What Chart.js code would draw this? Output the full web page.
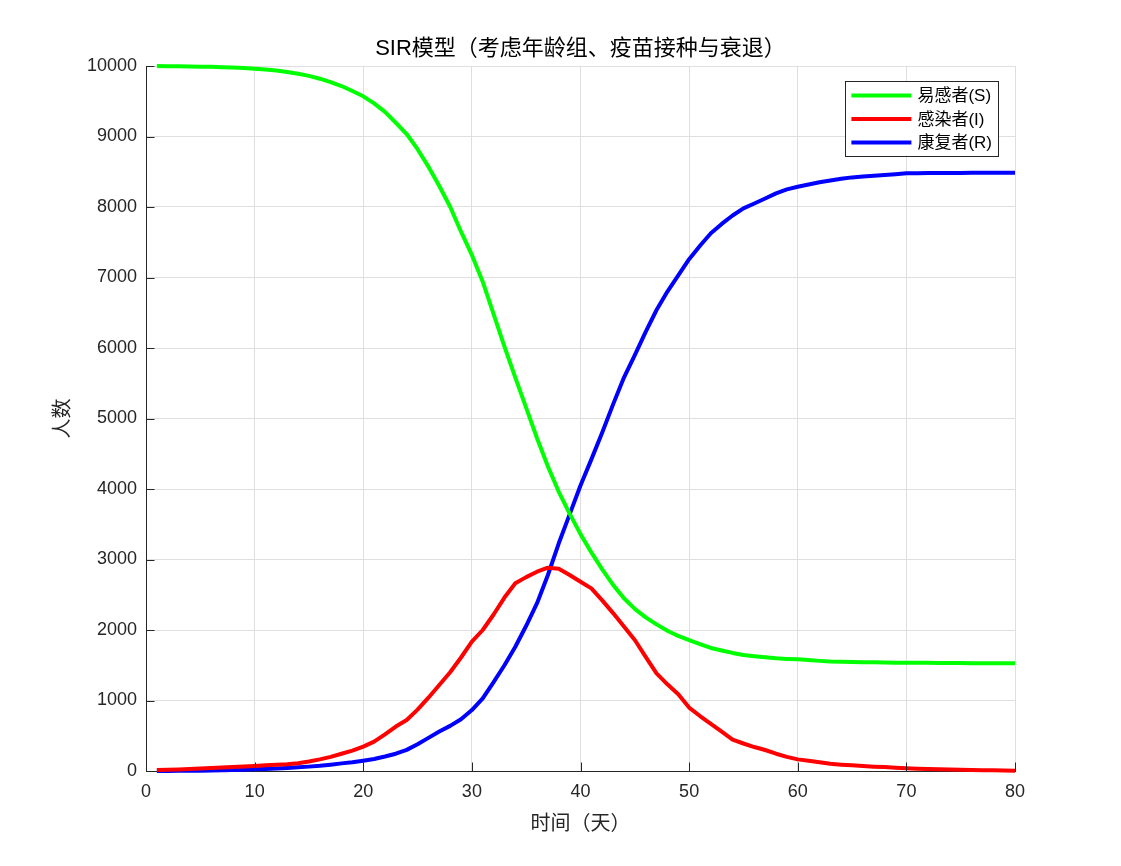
<!DOCTYPE html>
<html>
<head>
<meta charset="utf-8">
<script src="https://cdn.jsdelivr.net/npm/chart.js@4.4.1/dist/chart.umd.min.js"></script>
<style>
  html, body { margin: 0; padding: 0; background: #fff; }
  #wrap { width: 1121px; height: 866px; }
</style>
</head>
<body>
<div id="wrap"><canvas id="sir" width="1121" height="866"></canvas></div>
<script>
// ==============================
// DATA
// ==============================
const titulo = "SIR模型（考虑年龄组、疫苗接种与衰退）";
const etiquetaX = "时间（天）";
const etiquetaY = "人数";
const nombres = ["易感者(S)", "感染者(I)", "康复者(R)"];

const dias = [
  1, 2, 3, 4, 5, 6, 7, 8, 9, 10,
  11, 12, 13, 14, 15, 16, 17, 18, 19, 20,
  21, 22, 23, 24, 25, 26, 27, 28, 29, 30,
  31, 32, 33, 34, 35, 36, 37, 38, 39, 40,
  41, 42, 43, 44, 45, 46, 47, 48, 49, 50,
  51, 52, 53, 54, 55, 56, 57, 58, 59, 60,
  61, 62, 63, 64, 65, 66, 67, 68, 69, 70,
  71, 72, 73, 74, 75, 76, 77, 78, 79, 80
];

const susceptibles = [
  10000, 9998, 9996, 9994, 9991, 9988, 9984, 9979, 9972, 9960,
  9950, 9935, 9915, 9890, 9860, 9820, 9770, 9716, 9645, 9570,
  9470, 9350, 9195, 9035, 8820, 8572, 8298, 8004, 7650, 7320,
  6940, 6480, 6018, 5580, 5150, 4720, 4320, 3960, 3650, 3360,
  3100, 2860, 2640, 2450, 2300, 2180, 2080, 1990, 1915, 1858,
  1800, 1745, 1710, 1675, 1645, 1628, 1612, 1598, 1590, 1584,
  1575, 1562, 1552, 1548, 1545, 1543, 1541, 1539, 1537, 1536,
  1535, 1534, 1533, 1532, 1531, 1530, 1529, 1528, 1528, 1527
];

const infectados = [
  15, 18, 23, 29, 36, 42, 48, 55, 63, 72,
  80, 88, 97, 110, 135, 165, 200, 245, 290, 345,
  416, 520, 630, 723, 870, 1040, 1220, 1400, 1610, 1834,
  2000, 2220, 2460, 2662, 2750, 2827, 2884, 2870, 2780, 2685,
  2591, 2420, 2240, 2050, 1858, 1620, 1385, 1230, 1090, 900,
  780, 670, 560, 445, 390, 340, 298, 245, 200, 165,
  145, 125, 102, 90, 80, 70, 62, 55, 45, 38,
  33, 28, 24, 21, 18, 15, 12, 10, 7, 5
];

const recuperados = [
  0, 1, 2, 3, 5, 8, 11, 14, 18, 24,
  30, 36, 44, 52, 62, 74, 90, 108, 125, 146,
  170, 205, 245, 300, 380, 470, 560, 640, 735, 865,
  1030, 1260, 1500, 1763, 2060, 2380, 2780, 3230, 3640, 4050,
  4420, 4800, 5200, 5580, 5900, 6230, 6539, 6800, 7030, 7260,
  7450, 7627, 7760, 7880, 7981, 8050, 8120, 8194, 8250, 8288,
  8320, 8350, 8375, 8400, 8420, 8432, 8443, 8455, 8465, 8478,
  8480, 8481, 8482, 8483, 8484, 8485, 8485, 8486, 8486, 8487
];

const colores = ["#00ff00", "#ff0000", "#0000ff"];

// ==============================
// ESTILO
// ==============================
const FUENTE = "'Liberation Sans', 'Noto Sans CJK SC', sans-serif";
const EJE = "#262626";
const REJILLA = "#dfdfdf";

Chart.defaults.font.family = FUENTE;
Chart.defaults.color = EJE;

function serie(valores) {
  return dias.map((d, i) => ({ x: d, y: valores[i] }));
}

// título centrado sobre el área de datos
const tituloArea = {
  id: 'tituloArea',
  afterDraw(chart) {
    const ctx = chart.ctx;
    const area = chart.chartArea;
    ctx.save();
    ctx.font = "22px " + FUENTE;
    ctx.fillStyle = "#000000";
    ctx.textAlign = "center";
    ctx.textBaseline = "middle";
    ctx.fillText(titulo, (area.left + area.right) / 2, 49);
    ctx.restore();
  }
};

// ticks hacia dentro, estilo MATLAB
const ticksDentro = {
  id: 'ticksDentro',
  afterDraw(chart) {
    const ctx = chart.ctx;
    const xs = chart.scales.x;
    const ys = chart.scales.y;
    const area = chart.chartArea;
    const largo = 8.5;
    ctx.save();
    ctx.strokeStyle = EJE;
    ctx.lineWidth = 1;
    ctx.beginPath();
    xs.ticks.forEach(t => {
      const px = Math.round(xs.getPixelForValue(t.value)) + 0.5;
      ctx.moveTo(px, area.bottom);
      ctx.lineTo(px, area.bottom - largo);
    });
    ys.ticks.forEach(t => {
      const py = Math.round(ys.getPixelForValue(t.value)) + 0.5;
      ctx.moveTo(area.left, py);
      ctx.lineTo(area.left + largo, py);
    });
    ctx.stroke();
    ctx.restore();
  }
};

// leyenda con caja dentro del área
const leyendaCaja = {
  id: 'leyendaCaja',
  afterDraw(chart) {
    const ctx = chart.ctx;
    const area = chart.chartArea;
    const sets = chart.data.datasets;
    ctx.save();
    ctx.font = "17px " + FUENTE;
    let anchoTexto = 0;
    sets.forEach(ds => { anchoTexto = Math.max(anchoTexto, ctx.measureText(ds.label).width); });
    const lineaLargo = 60, pad = 6, hueco = 6, fila = 23.5;
    const derecha = area.right - 17;
    const arriba = area.top + 15;
    const ancho = pad + lineaLargo + hueco + anchoTexto + pad;
    const alto = fila * sets.length + 4;
    const izquierda = derecha - ancho;

    ctx.fillStyle = "#ffffff";
    ctx.fillRect(izquierda, arriba, ancho, alto);
    ctx.strokeStyle = EJE;
    ctx.lineWidth = 1;
    ctx.strokeRect(Math.round(izquierda) + 0.5, Math.round(arriba) + 0.5, Math.round(ancho), Math.round(alto));

    sets.forEach((ds, i) => {
      const y = arriba + 14.5 + i * fila;
      ctx.strokeStyle = ds.borderColor;
      ctx.lineWidth = 4;
      ctx.beginPath();
      ctx.moveTo(izquierda + pad, y);
      ctx.lineTo(izquierda + pad + lineaLargo, y);
      ctx.stroke();
      ctx.fillStyle = "#000000";
      ctx.textBaseline = "middle";
      ctx.textAlign = "left";
      ctx.fillText(ds.label, izquierda + pad + lineaLargo + hueco, y + 1);
    });
    ctx.restore();
  }
};

// ==============================
// GRÁFICO
// ==============================
const ctx = document.getElementById('sir').getContext('2d');

new Chart(ctx, {
  type: 'line',
  data: {
    datasets: [
      { label: nombres[0], data: serie(susceptibles), borderColor: colores[0] },
      { label: nombres[1], data: serie(infectados), borderColor: colores[1] },
      { label: nombres[2], data: serie(recuperados), borderColor: colores[2] }
    ]
  },
  options: {
    responsive: false,
    animation: false,
    devicePixelRatio: 1,
    layout: { padding: { left: 0, right: 106, top: 66, bottom: 0 } },
    elements: {
      line: { borderWidth: 4, tension: 0, fill: false, borderCapStyle: 'butt', borderJoinStyle: 'round' },
      point: { radius: 0, hoverRadius: 0 }
    },
    datasets: { line: { clip: false } },
    plugins: {
      legend: { display: false },
      tooltip: { enabled: false },
      title: { display: false }
    },
    scales: {
      x: {
        type: 'linear',
        min: 0,
        max: 80,
        ticks: { stepSize: 10, padding: 10, color: EJE, font: { size: 18 }, maxRotation: 0,
                 callback: v => String(v) },
        grid: { color: REJILLA, drawTicks: false },
        border: { display: true, color: EJE, width: 1 },
        title: { display: true, text: etiquetaX, color: EJE, font: { size: 20 }, padding: { top: 0, bottom: 30 } },
        afterFit: s => { s.height = 95; }
      },
      y: {
        type: 'linear',
        min: 0,
        max: 10000,
        ticks: { stepSize: 1000, padding: 9, color: EJE, font: { size: 18 },
                 callback: v => String(v) },
        grid: { color: REJILLA, drawTicks: false },
        border: { display: true, color: EJE, width: 1 },
        title: { display: true, text: etiquetaY, color: EJE, font: { size: 20 }, padding: { top: 51, bottom: 0 } },
        afterFit: s => { s.width = 146; }
      }
    }
  },
  plugins: [tituloArea, ticksDentro, leyendaCaja]
});
</script>
</body>
</html>
